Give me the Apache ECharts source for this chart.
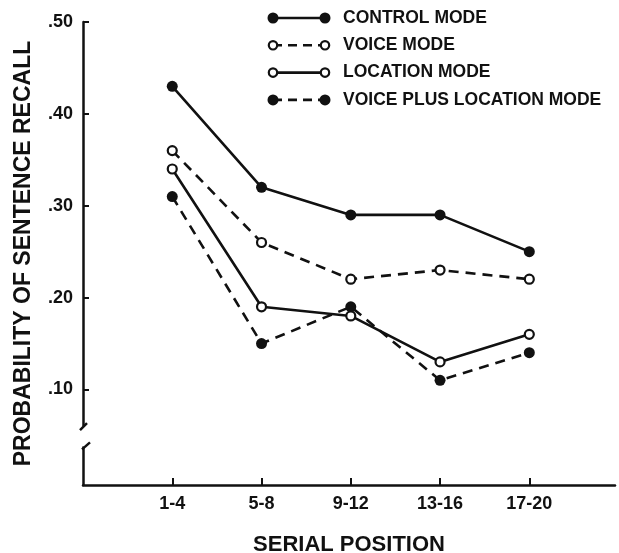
<!DOCTYPE html>
<html>
<head>
<meta charset="utf-8">
<script src="https://cdn.jsdelivr.net/npm/echarts@6/dist/echarts.min.js"></script>
<style>
  html, body { margin: 0; padding: 0; background: #fff; }
  #chart { width: 619px; height: 553px; }
</style>
</head>
<body>
<div id="chart"></div>
<script>
// serial position groups (x axis)
var positions = ['1-4', '5-8', '9-12', '13-16', '17-20'];
// y ticks
var yTicks = [0.1, 0.2, 0.3, 0.4, 0.5];

// probability of sentence recall
var controlMode = [0.43, 0.32, 0.29, 0.29, 0.25];
var voiceMode = [0.36, 0.26, 0.22, 0.23, 0.22];
var locationMode = [0.34, 0.19, 0.18, 0.13, 0.16];
var voicePlusLocationMode = [0.31, 0.15, 0.19, 0.11, 0.14];

var seriesNames = ['CONTROL MODE', 'VOICE MODE', 'LOCATION MODE', 'VOICE PLUS LOCATION MODE'];
var seriesValues = [controlMode, voiceMode, locationMode, voicePlusLocationMode];
var seriesFilled = [true, false, false, true];
var seriesDashed = [false, true, false, true];

var FONT = '"Liberation Sans", Arial, sans-serif';
var INK = '#111';

function pairs(vals) {
    var res = [];
    for (var i = 0; i < vals.length; i++) {
        res.push([i, vals[i]]);
    }
    return res;
}

var series = [];
for (var s = 0; s < seriesNames.length; s++) {
    series.push({
        name: seriesNames[s],
        type: 'line',
        data: pairs(seriesValues[s]),
        symbol: 'circle',
        symbolSize: seriesFilled[s] ? 11 : 9,
        showAllSymbol: true,
        z: seriesFilled[s] ? 3 : 4,
        lineStyle: {
            color: INK,
            width: 2.6,
            type: seriesDashed[s] ? [10, 7] : 'solid'
        },
        itemStyle: {
            color: seriesFilled[s] ? INK : '#fff',
            borderColor: INK,
            borderWidth: seriesFilled[s] ? 0 : 2.2
        },
        emphasis: { disabled: true },
        animation: false
    });
}

var myChart = echarts.init(document.getElementById('chart'), null, { renderer: 'canvas' });

myChart.setOption({
    backgroundColor: '#fff',
    animation: false,
    grid: { left: 83, right: 4, top: 22, bottom: 68, containLabel: false, outerBoundsMode: 'none' },
    xAxis: {
        type: 'value',
        min: -1,
        max: 4.96,
        name: 'SERIAL POSITION',
        nameLocation: 'middle',
        nameGap: 49,
        nameTextStyle: { fontFamily: FONT, fontWeight: 'bold', fontSize: 22, color: INK },
        splitLine: { show: false },
        axisLine: { show: true, onZero: false, lineStyle: { color: INK, width: 2.5 } },
        axisTick: {
            show: true, inside: true, length: 7,
            customValues: [0, 1, 2, 3, 4],
            lineStyle: { color: INK, width: 2 }
        },
        axisLabel: {
            customValues: [0, 1, 2, 3, 4],
            margin: 10,
            fontFamily: FONT, fontWeight: 'bold', fontSize: 18, color: INK,
            formatter: function (v) { return positions[v]; }
        }
    },
    yAxis: {
        type: 'value',
        min: -0.004,
        max: 0.5,
        name: 'PROBABILITY OF SENTENCE RECALL',
        nameLocation: 'middle',
        nameGap: 48,
        nameRotate: 90,
        nameTextStyle: { fontFamily: FONT, fontWeight: 'bold', fontSize: 23, color: INK },
        splitLine: { show: false },
        axisLine: { show: true, onZero: false, lineStyle: { color: INK, width: 2.5 } },
        axisTick: {
            show: true, inside: true, length: 6,
            customValues: yTicks,
            lineStyle: { color: INK, width: 2 }
        },
        axisLabel: {
            customValues: yTicks,
            margin: 10,
            fontFamily: FONT, fontWeight: 'bold', fontSize: 18, color: INK,
            formatter: function (v) { return v.toFixed(2).replace(/^0/, ''); }
        }
    },
    series: series
});

// axis break on the y axis + legend drawn with a symbol at each end of the line
var g = [];
var pTop = myChart.convertToPixel({ gridIndex: 0 }, [-1, 0.06]);
var pBot = myChart.convertToPixel({ gridIndex: 0 }, [-1, 0.038]);
var ax = pTop[0];
g.push({
    type: 'rect', z: 100,
    shape: { x: ax - 3, y: pTop[1], width: 6, height: pBot[1] - pTop[1] },
    style: { fill: '#fff' }
});
g.push({
    type: 'line', z: 101,
    shape: { x1: ax - 3, y1: pTop[1] + 4, x2: ax + 4, y2: pTop[1] - 3 },
    style: { stroke: INK, lineWidth: 2.5 }
});
g.push({
    type: 'line', z: 101,
    shape: { x1: ax - 1, y1: pBot[1] + 3, x2: ax + 7, y2: pBot[1] - 4 },
    style: { stroke: INK, lineWidth: 2.5 }
});

for (var k = 0; k < seriesNames.length; k++) {
    var ly = 18 + k * 27.3;
    g.push({
        type: 'line', z: 100,
        shape: { x1: 273, y1: ly, x2: 325, y2: ly },
        style: { stroke: INK, lineWidth: 2.6, lineDash: seriesDashed[k] ? [9, 6] : null }
    });
    [273, 325].forEach(function (cx) {
        g.push({
            type: 'circle', z: 101,
            shape: { cx: cx, cy: ly, r: seriesFilled[k] ? 5.5 : 4.2 },
            style: {
                fill: seriesFilled[k] ? INK : '#fff',
                stroke: INK,
                lineWidth: seriesFilled[k] ? 0 : 2.2
            }
        });
    });
    g.push({
        type: 'text', z: 101,
        x: 343, y: ly,
        style: {
            text: seriesNames[k],
            font: 'bold 17.5px ' + FONT,
            fill: INK,
            verticalAlign: 'middle',
            align: 'left'
        }
    });
}
myChart.setOption({ graphic: g });
</script>
</body>
</html>
